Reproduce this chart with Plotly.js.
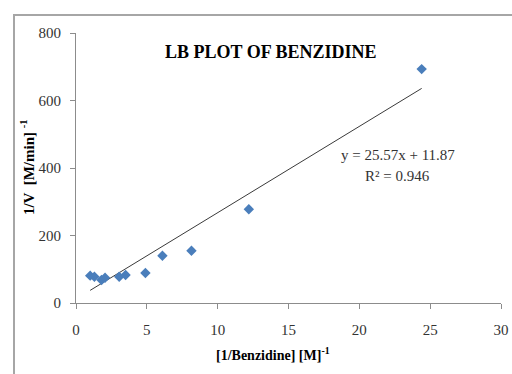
<!DOCTYPE html>
<html>
<head>
<meta charset="utf-8">
<script src="https://cdn.plot.ly/plotly-3.0.1.min.js"></script>
<style>
html,body{margin:0;padding:0;background:#fff;}
#wrap{position:relative;width:512px;height:374px;overflow:hidden;}
#chart{position:absolute;left:0;top:0;width:512px;height:374px;}
#frame{position:absolute;left:13px;top:14px;width:520px;height:380px;border-left:2px solid #a6a6a6;border-top:2px solid #a6a6a6;pointer-events:none;}
</style>
</head>
<body>
<div id="wrap"><div id="chart"></div><div id="frame"></div></div>
<script>
// Data
const invBenzidine = [1.0, 1.3, 1.8, 2.05, 3.05, 3.5, 4.9, 6.1, 8.15, 12.2, 24.4];
const invVelocity  = [81, 78, 68, 75, 78, 83, 89, 140, 155, 278, 693];
const trendSlope = 25.57;
const trendIntercept = 11.87;
const rSquared = 0.946;
const chartTitle = "LB PLOT OF BENZIDINE";
const xTickVals = [0, 5, 10, 15, 20, 25, 30];
const yTickVals = [0, 200, 400, 600, 800];

const xMin = Math.min(...invBenzidine), xMax = Math.max(...invBenzidine);
const trendX = [xMin, xMax];
const trendY = trendX.map(v => trendSlope * v + trendIntercept);

const serif = "Liberation Serif, Times New Roman, serif";

const traces = [
  {
    x: trendX, y: trendY, type: "scatter", mode: "lines",
    line: {color: "#3a3a3a", width: 1}, hoverinfo: "skip", showlegend: false
  },
  {
    x: invBenzidine, y: invVelocity, type: "scatter", mode: "markers",
    marker: {symbol: "diamond", size: 8, color: "#4a7ebb"}, showlegend: false
  }
];

const layout = {
  width: 512, height: 374,
  margin: {l: 76, r: 11, t: 33, b: 71},
  paper_bgcolor: "#ffffff", plot_bgcolor: "#ffffff",
  showlegend: false,
  xaxis: {
    range: [0, 30], tickvals: xTickVals, ticktext: xTickVals.map(String),
    showgrid: false, zeroline: false, showline: true, linecolor: "#8c8c8c", linewidth: 1,
    ticks: "outside", ticklen: 5, tickcolor: "#8c8c8c",
    tickfont: {family: serif, size: 15, color: "#333"}, ticklabelstandoff: 8
  },
  yaxis: {
    range: [0, 800], tickvals: yTickVals, ticktext: yTickVals.map(String),
    showgrid: false, zeroline: false, showline: true, linecolor: "#8c8c8c", linewidth: 1,
    ticks: "outside", ticklen: 5, tickcolor: "#8c8c8c",
    tickfont: {family: serif, size: 15, color: "#333"}, ticklabelstandoff: 6
  },
  annotations: [
    {text: "<b>" + chartTitle + "</b>", xref: "paper", yref: "paper", x: 0.459, y: 0.93,
     xanchor: "center", yanchor: "middle", showarrow: false,
     font: {family: serif, size: 18, color: "#000"}},
    {text: "<b>[1/Benzidine] [M]<sup>-1</sup></b>", xref: "paper", yref: "paper", x: 0.4635, y: -0.189,
     xanchor: "center", yanchor: "middle", showarrow: false,
     font: {family: serif, size: 14, color: "#000"}},
    {text: "<b>1/V  [M/min] <sup>-1</sup></b>", xref: "paper", yref: "paper", x: -0.115, y: 0.504,
     xanchor: "center", yanchor: "middle", textangle: -90, showarrow: false,
     font: {family: serif, size: 15, color: "#000"}},
    {text: "y = " + trendSlope + "x + " + trendIntercept, xref: "x", yref: "y", x: 22.7, y: 438,
     xanchor: "center", yanchor: "middle", showarrow: false,
     font: {family: serif, size: 15, color: "#333"}},
    {text: "R² = " + rSquared, xref: "x", yref: "y", x: 22.7, y: 376,
     xanchor: "center", yanchor: "middle", showarrow: false,
     font: {family: serif, size: 15, color: "#333"}}
  ]
};

Plotly.newPlot("chart", traces, layout, {displayModeBar: false, staticPlot: true});
</script>
</body>
</html>
